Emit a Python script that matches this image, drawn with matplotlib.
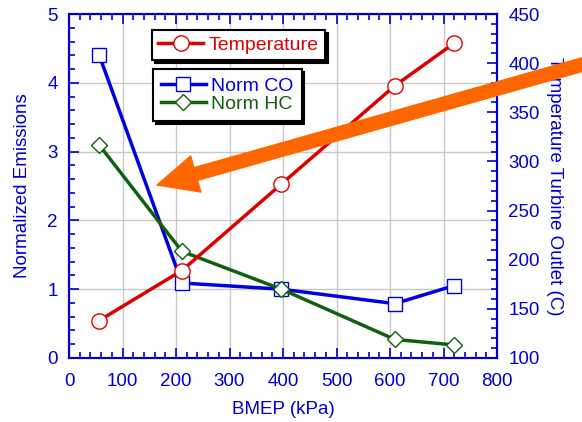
import matplotlib
matplotlib.use("Agg")
import matplotlib.pyplot as plt
from matplotlib.patches import FancyArrowPatch
from matplotlib.ticker import MultipleLocator

plt.rcParams['font.family'] = ['Liberation Sans', 'DejaVu Sans']

# data
bmep = [56, 211, 397, 609, 719]
temperature = [138, 189, 277, 377, 420]
norm_co = [4.41, 1.09, 1.0, 0.79, 1.05]
norm_hc = [3.10, 1.55, 1.0, 0.27, 0.19]

blue = '#0000CC'
red = '#DD0000'
green = '#106010'
orange = '#FF6600'
fs = 13.5

fig = plt.figure(figsize=(5.82, 4.22), dpi=100)
ax = fig.add_axes([0.1186, 0.1517, 0.7354, 0.8151])
ax2 = ax.twinx()

ax.set_xlim(0, 800)
ax.set_ylim(0, 5)
ax2.set_ylim(100, 450)

ax.grid(True, color='#C8C8C8', lw=1)
ax.set_axisbelow(True)

l_co, = ax.plot(bmep, norm_co, color='#0000DD', lw=2.5, marker='s', ms=10,
                mfc='white', mec='#0000DD', mew=1, label='Norm CO', zorder=3)
l_hc, = ax.plot(bmep, norm_hc, color=green, lw=2.5, marker='D', ms=8,
                mfc='white', mec=green, mew=1, label='Norm HC', zorder=3)
l_t, = ax2.plot(bmep, temperature, color=red, lw=2.5, marker='o', ms=11,
                mfc='white', mec=red, mew=1, label='Temperature', zorder=3)

for a in (ax, ax2):
    for s in a.spines.values():
        s.set_color(blue)
        s.set_linewidth(1.5)

ax.xaxis.set_major_locator(MultipleLocator(100))
ax.xaxis.set_minor_locator(MultipleLocator(20))
ax.yaxis.set_major_locator(MultipleLocator(1))
ax.yaxis.set_minor_locator(MultipleLocator(0.2))
ax2.yaxis.set_major_locator(MultipleLocator(50))
ax2.yaxis.set_minor_locator(MultipleLocator(10))

ax.tick_params(axis='x', which='both', direction='in', top=True, colors=blue,
               labelsize=fs, pad=11)
ax.tick_params(axis='y', which='both', direction='in', right=False, colors=blue,
               labelsize=fs, pad=8)
ax2.tick_params(axis='y', which='both', direction='in', colors=blue,
                labelsize=fs, pad=8)
for a in (ax, ax2):
    a.tick_params(which='major', length=7, width=1.2)
    a.tick_params(which='minor', length=4, width=1.2)

ax.set_xlabel('BMEP (kPa)', color=blue, fontsize=fs, labelpad=8)
ax.set_ylabel('Normalized Emissions', color=blue, fontsize=fs, labelpad=12)
ax2.set_ylabel('Temperature Turbine Outlet (C)', color=blue, fontsize=fs,
               rotation=270, labelpad=17)

leg_t = ax2.legend(handles=[l_t], loc='upper left', bbox_to_anchor=(0.261, 0.929),
                   bbox_transform=fig.transFigure, fontsize=14, fancybox=False,
                   shadow={'color': 'black', 'alpha': 1}, framealpha=1,
                   edgecolor='black', labelcolor='linecolor', handlelength=2.3,
                   borderpad=0.33, handletextpad=0.3, borderaxespad=0)
leg_t.get_frame().set_linewidth(1.5)

leg_n = ax.legend(handles=[l_co, l_hc], loc='upper left', bbox_to_anchor=(0.263, 0.836),
                  bbox_transform=fig.transFigure, fontsize=14, fancybox=False,
                  shadow={'color': 'black', 'alpha': 1}, framealpha=1,
                  edgecolor='black', labelcolor='linecolor', handlelength=2.3,
                  borderpad=0.4, handletextpad=0.3, labelspacing=0.05,
                  borderaxespad=0)
leg_n.get_frame().set_linewidth(1.5)
leg_n.set_zorder(5)

arrow = FancyArrowPatch((1.01, 1 - 63 / 422), (157 / 582, 1 - 185 / 422),
                        transform=fig.transFigure,
                        arrowstyle='simple,head_length=29,head_width=27,tail_width=9.5',
                        color=orange, shrinkA=0, shrinkB=0, zorder=10)
fig.patches.append(arrow)

fig.savefig('out.png', dpi=100)
